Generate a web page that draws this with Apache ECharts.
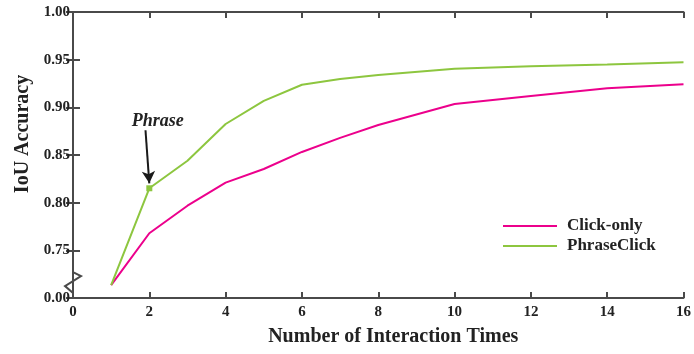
<!DOCTYPE html>
<html>
<head>
<meta charset="utf-8">
<script src="https://cdn.jsdelivr.net/npm/echarts@6/dist/echarts.min.js"></script>
<style>html,body{margin:0;padding:0;background:#fff;}#c{width:694px;height:354px;}</style>
</head>
<body>
<div id="c"></div>
<script>
var clickX = [1, 2, 3, 4, 5, 6, 7, 8, 10, 12, 14, 16];
var clickOnly = [0.7136, 0.7679, 0.7968, 0.8210, 0.8353, 0.8532, 0.8680, 0.8815, 0.9035, 0.9120, 0.9200, 0.9242];
var phraseX = [1, 2, 3, 4, 5, 6, 7, 8, 10, 12, 14, 16];
var phraseClick = [0.7136, 0.8151, 0.8440, 0.8825, 0.9067, 0.9237, 0.9297, 0.9340, 0.9405, 0.9430, 0.9450, 0.9472];
var xTicks = [0, 2, 4, 6, 8, 10, 12, 14, 16];
var yTicks = [0.70, 0.75, 0.80, 0.85, 0.90, 0.95, 1.00];
var yTickLabels = ['0.00', '0.75', '0.80', '0.85', '0.90', '0.95', '1.00'];
var seriesNames = ['Click-only', 'PhraseClick'];
var annotationText = 'Phrase';

var AX = '#4a4a4a';
var FONT = '"Liberation Serif", "Times New Roman", serif';
function pairs(xs, ys){ return xs.map(function(x,i){ return [x, ys[i]]; }); }
function yLabel(v){
  for (var i=0;i<yTicks.length;i++){ if (Math.abs(v-yTicks[i])<1e-6) return yTickLabels[i]; }
  return '';
}

var chart = echarts.init(document.getElementById('c'), null, {renderer:'canvas'});
var option = {
  animation: false,
  backgroundColor: '#fff',
  grid: {left: 73, right: 6, top: 12, bottom: 56, containLabel: false},
  xAxis: [{
    type: 'value', min: xTicks[0], max: xTicks[xTicks.length-1], interval: 2, position: 'bottom',
    name: 'Number of Interaction Times', nameLocation: 'middle', nameGap: 29,
    nameTextStyle: {fontFamily: FONT, fontWeight: 'bold', fontSize: 20, color: '#222', padding: [0,0,0,30]},
    axisLine: {show: true, lineStyle: {color: AX, width: 2}},
    axisTick: {show: true, inside: true, length: 6, lineStyle: {color: AX, width: 2}},
    axisLabel: {fontFamily: FONT, fontWeight: 'bold', fontSize: 15, color: '#222', margin: 7},
    splitLine: {show: false}
  }, {
    type: 'value', min: xTicks[0], max: xTicks[xTicks.length-1], interval: 2, position: 'top',
    axisLine: {show: true, lineStyle: {color: AX, width: 2}},
    axisTick: {show: true, inside: true, length: 6, lineStyle: {color: AX, width: 2}},
    axisLabel: {show: false}, splitLine: {show: false}
  }],
  yAxis: [{
    type: 'value', min: yTicks[0], max: yTicks[yTicks.length-1], interval: 0.05, position: 'left',
    name: 'IoU Accuracy', nameLocation: 'middle', nameGap: 34,
    nameTextStyle: {fontFamily: FONT, fontWeight: 'bold', fontSize: 20, color: '#222', padding: [0,0,0,42]},
    axisLine: {show: false},
    axisTick: {show: true, inside: true, length: 7, lineStyle: {color: AX, width: 2}},
    axisLabel: {fontFamily: FONT, fontWeight: 'bold', fontSize: 15, color: '#222', margin: 3, formatter: yLabel},
    splitLine: {show: false}
  }, {
    type: 'value', min: yTicks[0], max: yTicks[yTicks.length-1], interval: 0.05, position: 'right',
    axisLine: {show: true, lineStyle: {color: AX, width: 2}},
    axisTick: {show: true, inside: true, length: 7, lineStyle: {color: AX, width: 2}},
    axisLabel: {show: false}, splitLine: {show: false}
  }],
  legend: {
    orient: 'vertical', left: 498, top: 212, icon: 'rect', itemWidth: 54, itemHeight: 2, itemGap: 2,
    data: seriesNames,
    textStyle: {fontFamily: FONT, fontWeight: 'bold', fontSize: 17, color: '#222', padding: [0,0,0,5], lineHeight: 18}
  },
  series: [{
    name: seriesNames[0], type: 'line', xAxisIndex: 0, yAxisIndex: 0,
    data: pairs(clickX, clickOnly), symbol: 'none', smooth: false,
    lineStyle: {color: '#EC008C', width: 2}, itemStyle: {color: '#EC008C'}
  }, {
    name: seriesNames[1], type: 'line', xAxisIndex: 0, yAxisIndex: 0,
    data: pairs(phraseX, phraseClick), symbol: 'none', smooth: false,
    lineStyle: {color: '#8DC63F', width: 2}, itemStyle: {color: '#8DC63F'},
    markPoint: {
      silent: true,
      data: [
        {coord: [phraseX[1], phraseClick[1]], symbol: 'rect', symbolSize: 6, itemStyle: {color: '#8DC63F'}, label: {show: false}},
        {coord: [2.22, 0.8857], symbol: 'rect', symbolSize: 0,
         label: {show: true, position: 'inside', formatter: annotationText, fontFamily: FONT, fontWeight: 'bold', fontStyle: 'italic', fontSize: 18, color: '#222'}}
      ]
    },
    markLine: {
      silent: true, animation: false,
      symbol: ['none', 'arrow'], symbolSize: [10, 12],
      label: {show: false},
      lineStyle: {color: '#1a1a1a', width: 2, type: 'solid'},
      data: [[{coord: [1.90, 0.876]}, {coord: [2.0, 0.8203]}]]
    }
  }]
};
chart.setOption(option);

function drawBreak(){
  var top = chart.convertToPixel({yAxisIndex: 0}, 1.00);
  var bot = chart.convertToPixel({yAxisIndex: 0}, 0.70);
  var x0 = chart.convertToPixel({xAxisIndex: 0}, 0);
  var b1 = chart.convertToPixel({yAxisIndex: 0}, 0.7272);
  var b2 = chart.convertToPixel({yAxisIndex: 0}, 0.7230);
  var b3 = chart.convertToPixel({yAxisIndex: 0}, 0.7125);
  var b4 = chart.convertToPixel({yAxisIndex: 0}, 0.7052);
  chart.setOption({graphic: [{
    type: 'polyline', silent: true, z: 10,
    shape: {points: [[x0, top-1], [x0, b1], [x0+8, b2], [x0-8, b3], [x0, b4], [x0, bot+1]]},
    style: {stroke: AX, lineWidth: 2, fill: null}
  }]});
}
drawBreak();
</script>
</body>
</html>
